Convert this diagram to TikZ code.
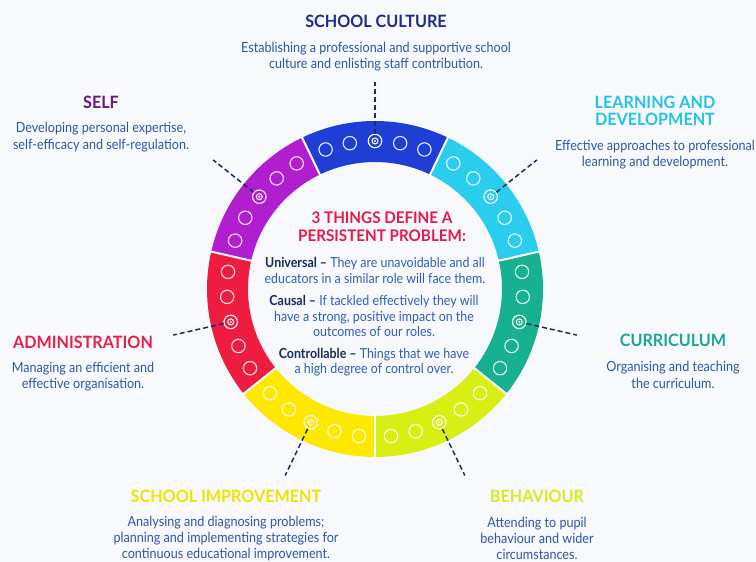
\documentclass[tikz,border=0pt]{standalone}
\usepackage{fontspec}
\setmainfont{Lato}
\newfontfamily\descfont{Lato}[FakeStretch=0.9]
\newfontfamily\headfont{Lato}[FakeStretch=0.95]

\definecolor{bgc}{HTML}{F7F9FC}
\definecolor{blueseg}{HTML}{1F3ED6}
\definecolor{cyanseg}{HTML}{2BCDEE}
\definecolor{tealseg}{HTML}{17B090}
\definecolor{limeseg}{HTML}{D9EE12}
\definecolor{yellowseg}{HTML}{FFE800}
\definecolor{redseg}{HTML}{EE1C3E}
\definecolor{purpleseg}{HTML}{B01ED0}
\definecolor{tsc}{HTML}{1C2C8C}
\definecolor{tself}{HTML}{6A1880}
\definecolor{tld}{HTML}{22C4E6}
\definecolor{tcur}{HTML}{18A894}
\definecolor{tbeh}{HTML}{DCEB1A}
\definecolor{tsi}{HTML}{F2E200}
\definecolor{tadm}{HTML}{E8204A}
\definecolor{desc}{HTML}{2E56A8}
\definecolor{ctitle}{HTML}{E8194C}
\definecolor{cbold}{HTML}{1B2A5C}
\definecolor{cbody}{HTML}{2F5FB8}
\definecolor{leadc}{HTML}{1C2A6B}

\tikzset{
  title/.style={font=\headfont\bfseries\fontsize{17}{17}\selectfont, align=center, inner sep=0pt},
  desctext/.style={font=\descfont\fontsize{14}{16.3}\selectfont, text=desc, align=center, inner sep=0pt},
  centertext/.style={font=\descfont\fontsize{13.8}{15.2}\selectfont, text=cbody, align=center, inner sep=0pt},
  ringdot/.style={draw=white, line width=1.1pt, draw opacity=0.9},
  icon/.style={circle, draw=white, line width=1.1pt, minimum size=13.5pt, inner sep=0pt},
  leader/.style={draw=leadc, line width=1.5pt, dash pattern=on 5pt off 3pt}
}

\begin{document}
\begin{tikzpicture}[x=1pt,y=1pt]
\useasboundingbox (0,0) rectangle (756,562);
\fill[bgc] (0,0) rectangle (756,562);

% the ring of seven segments
\begin{scope}[shift={(375,273)}]
  \foreach \c/\col/\nm in {90/blueseg/sc, 38.571/cyanseg/ld, -12.857/tealseg/cu,
      -64.286/limeseg/be, -115.714/yellowseg/si, -167.143/redseg/ad, -218.571/purpleseg/se} {
    \fill[\col] (\c-25.714:168) arc[start angle=\c-25.714, end angle=\c+25.714, radius=168pt]
      -- (\c+25.714:127) arc[start angle=\c+25.714, end angle=\c-25.714, radius=127pt] -- cycle;
    \foreach \o in {-19.5,-9.8,9.8,19.5}
      \draw[ringdot] (\c+\o:148) circle[radius=6.7pt];
    \node[icon] (icon-\nm) at (\c:148) {};
    \draw[white, line width=1pt] (icon-\nm.center) circle[radius=3pt];
    \fill[white] (icon-\nm.center) circle[radius=1.1pt];
    \coordinate (end-\nm) at (\c:207);
    \draw[leader] (icon-\nm) -- (end-\nm);
  }
  \foreach \b in {64.286, 12.857, -38.571, -90, -141.429, -192.857, -244.286}
    \draw[white, line width=2pt] (\b:125) -- (\b:170);
\end{scope}

% centre text
\node[font=\headfont\bfseries\fontsize{16}{18}\selectfont, text=ctitle, align=center, inner sep=0pt]
  (ctitle) at (382,335) {3 THINGS DEFINE A\\PERSISTENT PROBLEM:};
\node[centertext] (universal) at (375,291.5)
  {\textcolor{cbold}{\bfseries Universal –} They are unavoidable and all\\educators in a similar role will face them.};
\node[centertext] (causal) at (374,246)
  {\textcolor{cbold}{\bfseries Causal –} If tackled effectively they will\\have a strong, positive impact on the\\outcomes of our roles.};
\node[centertext] (controllable) at (374,199.5)
  {\textcolor{cbold}{\bfseries Controllable –} Things that we have\\a high degree of control over.};

% labels around the ring
\node[title, text=tsc] (t-sc) at (376,541) {SCHOOL CULTURE};
\node[desctext] (d-sc) at (376,505.5) {Establishing a professional and supportive school\\culture and enlisting staff contribution.};

\node[title, text=tself] (t-se) at (101,460) {SELF};
\node[desctext] (d-se) at (101,425) {Developing personal expertise,\\self-efficacy and self-regulation.};

\node[title, text=tld] (t-ld) at (655,451.5) {LEARNING AND\\DEVELOPMENT};
\node[desctext] (d-ld) at (655,407.5) {Effective approaches to professional\\learning and development.};

\node[title, text=tcur] (t-cu) at (673,222) {CURRICULUM};
\node[desctext] (d-cu) at (673,187) {Organising and teaching\\the curriculum.};

\node[title, text=tadm] (t-ad) at (83,220) {ADMINISTRATION};
\node[desctext] (d-ad) at (83,185.5) {Managing an efficient and\\effective organisation.};

\node[title, text=tsi] (t-si) at (226,66) {SCHOOL IMPROVEMENT};
\node[desctext] (d-si) at (226,23.5) {Analysing and diagnosing problems;\\planning and implementing strategies for\\continuous educational improvement.};

\node[title, text=tbeh] (t-be) at (537,66) {BEHAVIOUR};
\node[desctext] (d-be) at (537,23.5) {Attending to pupil\\behaviour and wider\\circumstances.};
\end{tikzpicture}
\end{document}
